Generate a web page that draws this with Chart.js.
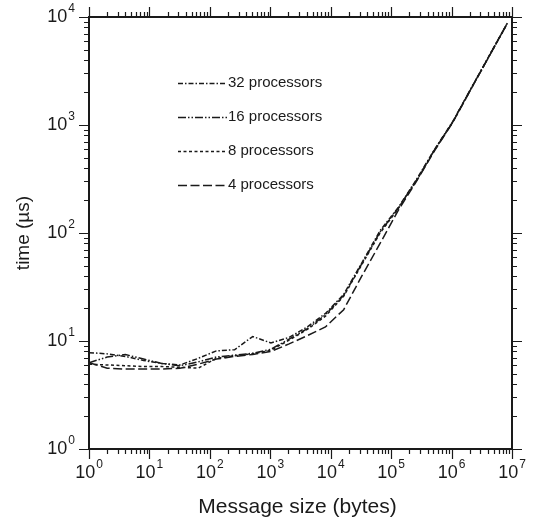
<!DOCTYPE html>
<html>
<head>
<meta charset="utf-8">
<script src="https://cdn.jsdelivr.net/npm/chart.js@4.4.0/dist/chart.umd.min.js"></script>
<style>
  html, body { margin: 0; padding: 0; background: #fff; }
  #wrap { width: 536px; height: 524px; }
</style>
</head>
<body>
<div id="wrap"><canvas id="timingChart" width="536" height="524"></canvas></div>
<script>
// message size in bytes (powers of two)
const sizes = [1, 2, 4, 8, 16, 32, 64, 128, 256, 512, 1024, 2048, 4096, 8192,
  16384, 32768, 65536, 131072, 262144, 524288, 1048576, 2097152, 4194304, 8388608];

// time in microseconds
const time32 = [7.8, 7.6, 7.2, 6.6, 6.2, 6.0, 6.9, 8.1, 8.3, 11.0, 9.6, 10.8, 13.5, 18,
  27, 53, 105, 172, 312, 595, 1080, 2180, 4380, 8800];
const time16 = [6.3, 7.1, 7.5, 6.8, 6.2, 5.9, 6.4, 7.1, 7.4, 7.7, 8.4, 10.4, 13, 17.5,
  26.5, 52, 102, 170, 308, 590, 1070, 2170, 4360, 8780];
const time8 = [6.1, 6.0, 5.9, 5.8, 5.8, 5.7, 5.6, 6.9, 7.3, 7.6, 8.2, 10.2, 12.8, 17,
  26, 51, 100, 168, 305, 588, 1065, 2160, 4350, 8760];
const time4 = [6.3, 5.6, 5.5, 5.5, 5.5, 5.6, 6.1, 6.8, 7.2, 7.5, 8.0, 9.4, 11.2, 13.5,
  19.5, 40, 80, 162, 300, 580, 1060, 2150, 4340, 8750];

const labels = ["32 processors", "16 processors", "8 processors", "4 processors"];

// decade exponents used for the tick labels
const xExps = [0, 1, 2, 3, 4, 5, 6, 7];
const yExps = [0, 1, 2, 3, 4];

const INK = "#1a1a1a";
const FONT = '"Liberation Sans", Arial, Helvetica, sans-serif';

const dashes = [
  [5, 2, 1.5, 2],            // 32: dash-dot
  [8, 2, 1.5, 2, 1.5, 2],    // 16: dash-dot-dot
  [3, 2.5],                  // 8: dotted
  [9, 3.5],                  // 4: long dash
];

const toPoints = (vals) => sizes.map((s, i) => ({ x: s, y: vals[i] }));

// draw "10" with a raised exponent
function drawPower(ctx, exp, x, y, align) {
  ctx.font = "18px " + FONT;
  const baseW = ctx.measureText("10").width;
  ctx.font = "12px " + FONT;
  const expW = ctx.measureText(String(exp)).width;
  const total = baseW + 1 + expW;
  let left = x;
  if (align === "center") left = x - total / 2;
  if (align === "right") left = x - total;
  ctx.textAlign = "left";
  ctx.textBaseline = "middle";
  ctx.font = "18px " + FONT;
  ctx.fillText("10", left, y);
  ctx.font = "12px " + FONT;
  ctx.fillText(String(exp), left + baseW + 1, y - 8);
}

const framePlugin = {
  id: "frame",
  afterDraw(chart) {
    const { ctx, chartArea: a } = chart;
    const xs = chart.scales.x, ys = chart.scales.y;
    ctx.save();
    ctx.strokeStyle = INK;
    ctx.fillStyle = INK;

    // ticks, all pointing outwards
    ctx.lineWidth = 1.2;
    ctx.beginPath();
    xExps.forEach((d) => {
      for (let m = 1; m <= 9; m++) {
        if (d === xExps[xExps.length - 1] && m > 1) break;
        const px = Math.round(xs.getPixelForValue(m * Math.pow(10, d))) + 0.5;
        const len = m === 1 ? 10 : 5;
        ctx.moveTo(px, a.bottom); ctx.lineTo(px, a.bottom + len);
        ctx.moveTo(px, a.top); ctx.lineTo(px, a.top - len);
      }
    });
    yExps.forEach((d) => {
      for (let m = 1; m <= 9; m++) {
        if (d === yExps[yExps.length - 1] && m > 1) break;
        const py = Math.round(ys.getPixelForValue(m * Math.pow(10, d))) + 0.5;
        const len = m === 1 ? 10 : 5;
        ctx.moveTo(a.left, py); ctx.lineTo(a.left - len, py);
        ctx.moveTo(a.right, py); ctx.lineTo(a.right + len, py);
      }
    });
    ctx.stroke();

    // frame
    ctx.lineWidth = 2;
    ctx.strokeRect(a.left, a.top, a.right - a.left, a.bottom - a.top);

    // tick labels
    xExps.forEach((d) => drawPower(ctx, d, xs.getPixelForValue(Math.pow(10, d)), a.bottom + 24, "center"));
    yExps.forEach((d) => drawPower(ctx, d, a.left - 14, ys.getPixelForValue(Math.pow(10, d)), "right"));

    // axis titles
    ctx.textAlign = "center";
    ctx.textBaseline = "middle";
    ctx.font = "21px " + FONT;
    ctx.fillText("Message size (bytes)", (a.left + a.right) / 2 - 3, 507);
    ctx.save();
    ctx.translate(24, (a.top + a.bottom) / 2);
    ctx.rotate(-Math.PI / 2);
    ctx.font = "19px " + FONT;
    ctx.fillText("time (\u00b5s)", 0, 0);
    ctx.restore();

    // legend inside the plot
    chart.data.datasets.forEach((ds, i) => {
      const y = 83 + i * 34;
      ctx.lineWidth = 1.5;
      ctx.setLineDash(ds.borderDash);
      ctx.beginPath();
      ctx.moveTo(178, y + 0.5);
      ctx.lineTo(227, y + 0.5);
      ctx.stroke();
      ctx.setLineDash([]);
      ctx.font = "15px " + FONT;
      ctx.textAlign = "left";
      ctx.fillText(ds.label, 228, y);
    });
    ctx.restore();
  },
};

new Chart(document.getElementById("timingChart"), {
  type: "line",
  data: {
    datasets: [time32, time16, time8, time4].map((vals, i) => ({
      label: labels[i],
      data: toPoints(vals),
      borderColor: INK,
      borderWidth: 1.5,
      borderDash: dashes[i],
      pointRadius: 0,
      fill: false,
      tension: 0,
    })),
  },
  options: {
    responsive: false,
    animation: false,
    devicePixelRatio: 1,
    layout: { padding: { left: 89, top: 17, right: 24, bottom: 75 } },
    scales: {
      x: { type: "logarithmic", min: 1, max: 1e7, display: false },
      y: { type: "logarithmic", min: 1, max: 1e4, display: false },
    },
    plugins: {
      legend: { display: false },
      tooltip: { enabled: false },
    },
  },
  plugins: [framePlugin],
});
</script>
</body>
</html>
